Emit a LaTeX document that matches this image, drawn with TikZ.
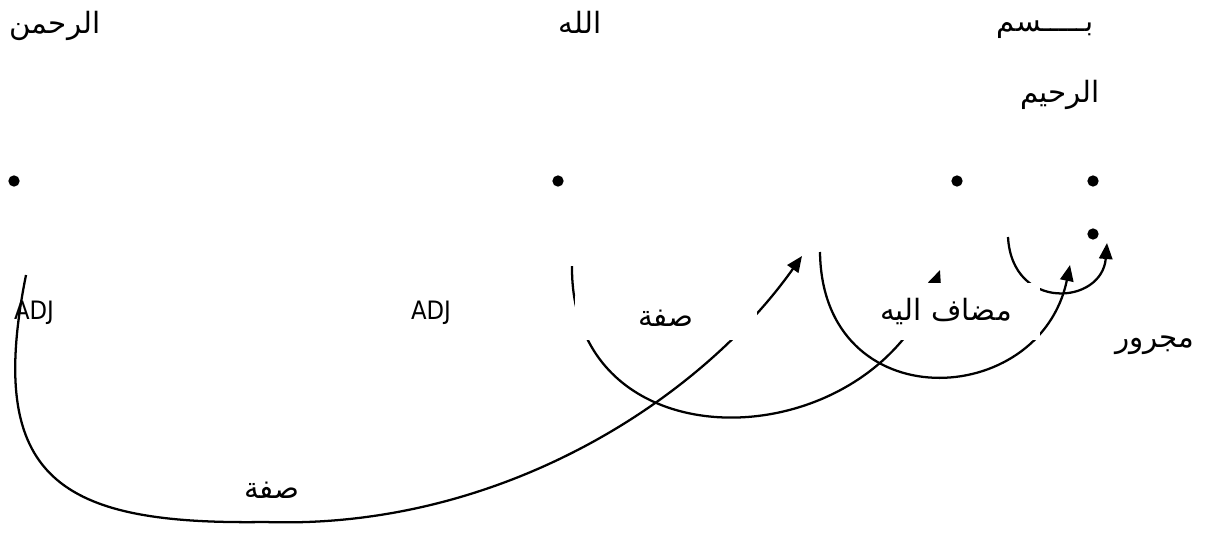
\documentclass[tikz,border=0pt]{standalone}
\usepackage{fontspec}
\newfontfamily\arabicfont[Script=Arabic]{DejaVu Sans}
\newfontfamily\tagfont{DejaVu Sans Condensed}
\TeXXeTstate=1
\usetikzlibrary{arrows.meta}
\tikzset{>=Triangle}

\begin{document}
\begin{tikzpicture}[x=0.75pt, y=-0.75pt,
    dotmark/.style={circle, fill, inner sep=0pt, minimum size=8.5pt},
    word/.style={font=\arabicfont\fontsize{22}{26}\selectfont, inner sep=0pt},
    tag/.style={font=\tagfont\fontsize{19}{22}\selectfont, inner sep=0pt},
    gapbox/.style={word, fill=white},
    link/.style={-{Triangle[length=12pt,width=10pt]}, line width=1.7pt}
  ]
    \useasboundingbox (0,0) rectangle (1219,535);

    % words of the verse
    \node[word] (rahman) at (55,26)   {\beginR الرحمن\endR};
    \node[word] (allah)  at (580,22)  {\beginR الله\endR};
    \node[word] (bism)   at (1045,30) {\beginR بـــــسم\endR};
    \node[word] (raheem) at (1060,95) {\beginR الرحيم\endR};

    % one dot per word
    \foreach \n/\x/\y in {rahman/14/181, allah/558/181, raheem/957/181, ism/1093/181, ba/1093/234}
      \node[dotmark] (dot-\n) at (\x,\y) {};

    % ends of the arcs
    \coordinate (aS) at (1008,237);  \coordinate (aE) at (1107,243);
    \coordinate (bS) at (820,252);   \coordinate (bE) at (1070,265);
    \coordinate (cS) at (572,266);   \coordinate (cE) at (940,270);
    \coordinate (dS) at (26,275);    \coordinate (dLow) at (265,522);
    \coordinate (dE) at (802,256);

    % dependency arcs
    \draw[link] (aS) .. controls (1012,312) and (1102,305) .. (aE);
    \draw[link] (bS) .. controls (822,420) and (1040,410) .. (bE);
    \draw[link] (cS) .. controls (570,470) and (870,460) .. (cE);
    \draw[link] (dS) .. controls (-15,480) and (60,525) .. (dLow)
                     .. controls (500,530) and (700,400) .. (dE);

    % relation labels, the white boxes cut the arcs
    \node[gapbox, minimum width=136pt, minimum height=33pt] (sifa1) at (666,318) {\beginR صفة\endR};
    \node[gapbox, minimum width=141pt, minimum height=42.75pt] (mudaf) at (946,311.5) {\beginR مضاف اليه\endR};
    \node[word] (majrur) at (1155,345) {\beginR مجرور\endR};
    \node[word] (sifa2)  at (272,490)  {\beginR صفة\endR};
    \node[tag] (adj1) at (34,313)  {ADJ};
    \node[tag] (adj2) at (431,313) {ADJ};
\end{tikzpicture}
\end{document}
